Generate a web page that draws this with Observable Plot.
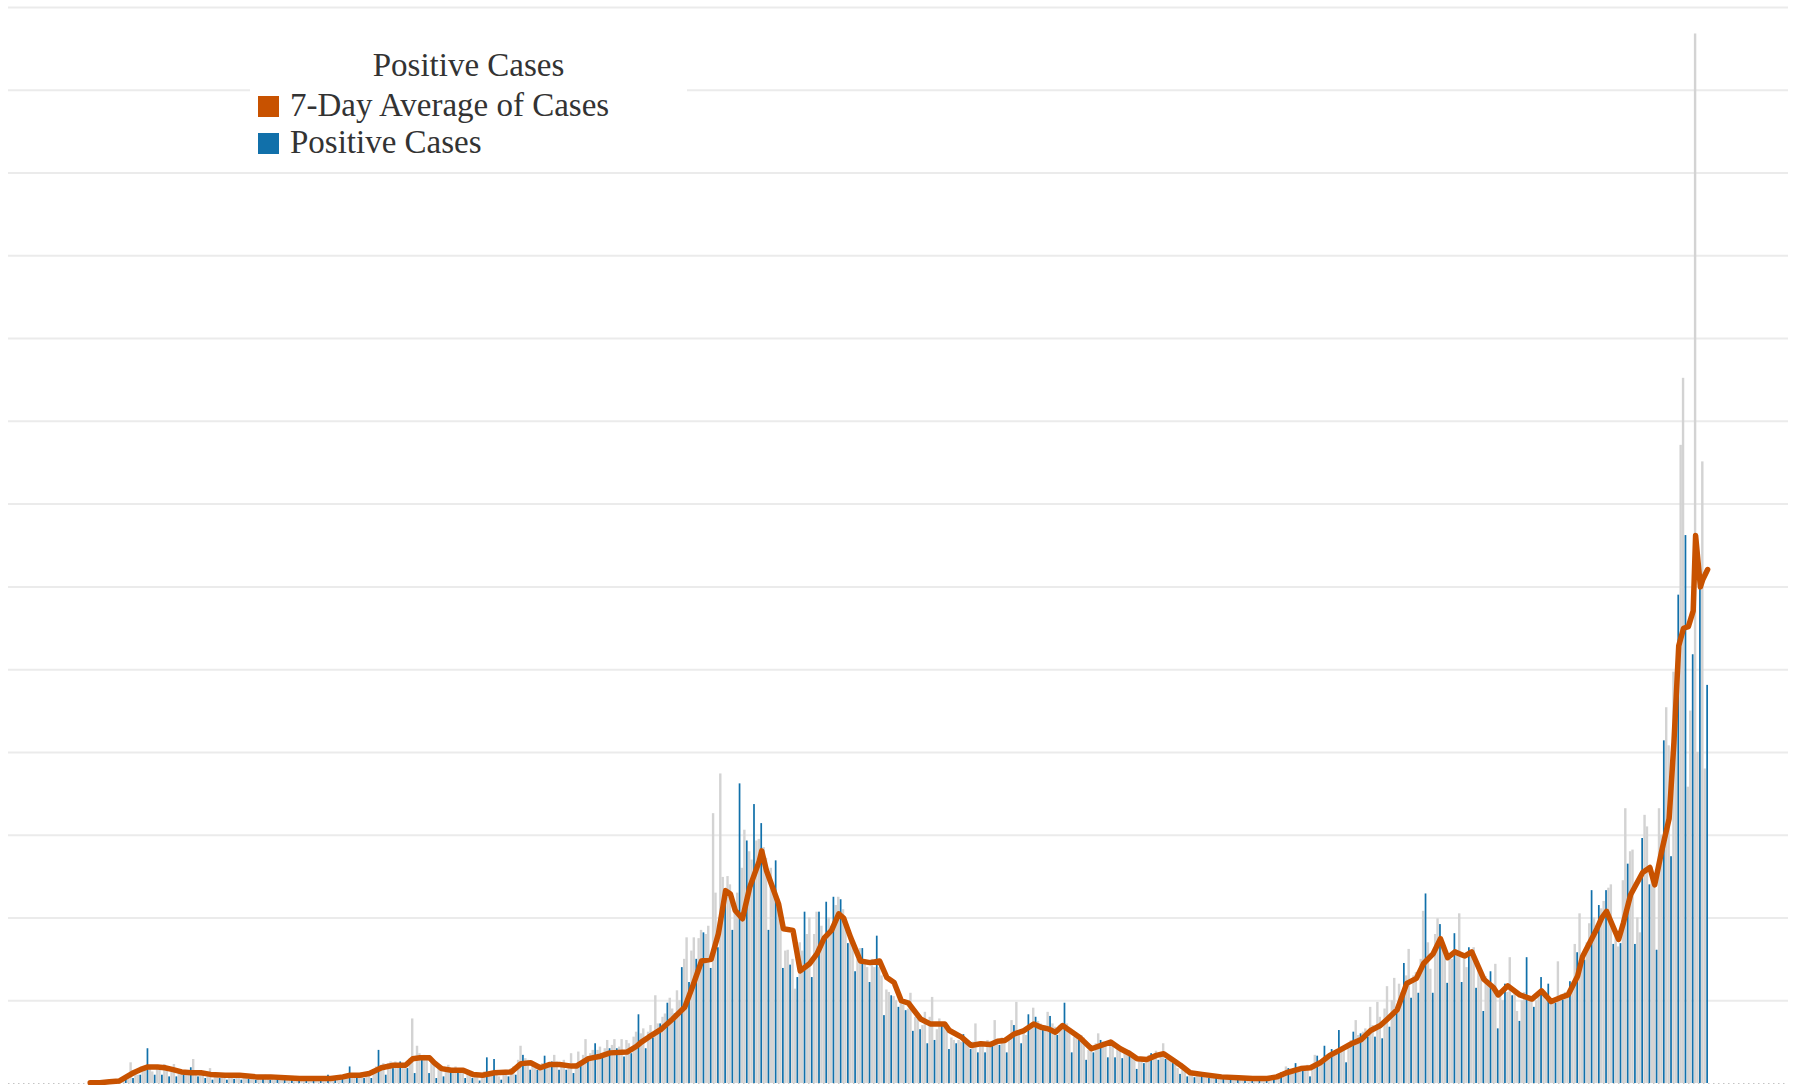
<!DOCTYPE html>
<html>
<head>
<meta charset="utf-8">
<script src="https://cdn.jsdelivr.net/npm/d3@7"></script>
<script src="https://cdn.jsdelivr.net/npm/@observablehq/plot@0.6"></script>
<style>
  html, body { margin: 0; padding: 0; background: #fff; }
  #wrap { position: relative; width: 1796px; height: 1085px; overflow: hidden; }
  #legend { position: absolute; left: 250px; top: 34px; width: 437px; height: 130px; background: #fff;
            font-family: "Liberation Serif", "Times New Roman", serif; color: #333; font-size: 33px; line-height: 33px; }
  #legend .title { position: absolute; left: 0; top: 15px; width: 437px; text-align: center; white-space: nowrap; }
  #legend .sw { position: absolute; left: 8px; width: 21px; height: 21px; }
  #legend .lab { position: absolute; left: 40px; white-space: nowrap; }
</style>
</head>
<body>
<div id="wrap"></div>
<script>
// Daily positive cases (one value per day)
const dailyCases = [
  0,0,0, 0,0,0, 1,0,1, 1,2,1, 3,4,3, 6,10,25, 6,14,10, 10,16,20, 42,18,14, 10,20,16,
  10,23,18, 8,16,23, 8,14,12, 10,12,15, 19,29,12, 8,14,10, 6,10,18, 4,12,10, 6,12,9, 4,10,11,
  5,12,9, 4,10,11, 5,8,10, 4,9,8, 6,10,8, 4,8,9, 5,8,7, 4,7,8, 5,7,6, 4,6,7,
  4,7,6, 5,6,7, 4,7,6, 10,6,5, 4,8,6, 6,8,10, 20,12,9, 8,12,10, 6,12,14, 6,16,20,
  40,22,24, 10,24,26, 18,26,24, 26,22,18, 18,30,78, 12,45,36, 28,34,30, 12,26,24, 6,20,18, 8,16,22,
  18,18,20, 16,18,14, 6,14,12, 6,12,10, 3,12,14, 31,14,10, 29,12,8, 4,14,16, 8,18,20, 10,28,45,
  34,30,28, 16,22,18, 16,20,24, 33,24,22, 26,34,26, 16,24,28, 16,22,36, 12,24,38, 24,34,53, 32,36,40,
  48,40,44, 32,42,52, 42,46,53, 42,44,53, 32,52,48, 36,56,62, 83,60,66, 42,62,70, 55,106,72, 72,80,84,
  97,103,90, 84,112,100, 140,150,176, 122,160,176, 150,175,185, 182,180,190, 139,326,230, 164,374,249, 221,250,240, 185,215,230,
  362,260,306, 293,280,270, 337,293,295, 314,285,272, 185,260,230, 269,220,200, 139,160,161, 143,150,114, 128,170,160, 207,180,200,
  128,180,207, 207,190,175, 219,200,190, 225,215,225, 222,210,200, 169,180,170, 135,150,163, 163,145,140, 122,150,140, 178,140,130,
  82,113,110, 106,105,100, 92,100,95, 88,90,109, 63,80,78, 65,70,86, 48,80,104, 52,65,78, 69,70,65, 41,55,52,
  48,52,50, 59,48,46, 41,50,72, 37,45,48, 37,52,50, 46,76,50, 46,55,52, 37,55,76, 70,98,62, 48,60,58,
  83,70,91, 80,75,72, 64,70,86, 81,72,68, 58,70,65, 97,72,66, 37,56,60, 52,58,55, 28,40,44, 37,48,60,
  52,50,48, 31,48,45, 31,44,40, 30,38,36, 39,34,32, 17,30,28, 24,30,34, 36,30,39, 28,36,48, 29,30,28,
  24,22,18, 11,16,14, 8,12,10, 7,10,9, 8,9,10, 6,9,8, 7,8,9, 6,8,7, 5,8,7, 6,7,6,
  5,7,6, 5,6,7, 6,6,5, 5,7,6, 6,8,7, 13,12,20, 18,14,16, 24,16,18, 19,20,22, 8,22,34,
  33,26,28, 45,30,32, 41,36,40, 64,40,42, 25,48,52, 62,76,58, 60,62,66, 56,92,70, 56,98,80, 54,90,117,
  68,100,127, 92,120,110, 145,130,162, 103,130,134, 109,150,208, 229,170,138, 109,180,199, 192,170,160, 121,150,150, 181,160,205,
  122,150,140, 164,155,164, 115,140,130, 87,129,120, 135,120,144, 66,110,100, 120,110,152, 106,110,87, 75,100,110, 152,105,100,
  92,100,110, 128,110,100, 120,100,98, 97,147,100, 101,110,105, 123,120,168, 158,205,150, 149,170,193, 233,200,190, 215,211,220,
  233,236,240, 168,180,165, 169,245,332, 265,280,282, 168,200,182, 296,324,310, 240,260,250, 161,332,300, 414,454,408, 274,497,420,
  590,771,852, 662,358,450, 518,1268,400, 598,751,380, 481
];

// 7-day average of cases, read at the line's turning points (day index, value)
const avgDay = [
  0,4,8,12,15,18,21,24,28,31, 34,38,42,46,50,56,62,69,75,81,
  87,94,100,105,108,112,116,121,126,131, 134,137,141,143,146,150,155,159,163,168,
  175,179,183,187,191,195,200,202,207,212, 216,223,227,229,232,237,242,247,250,254,
  258,261,264,266,268,271,274,278,279,281, 286,288,292,295,299,302,305,308,311,313,
  316,320,324,328,331,334,337,340,345,349, 355,357,362,366,370,374,377,380,384,388,
  392,395,398,401,404,407,411,416,420,424, 428,432,435,439,443,446,450,453,457,462,
  470,477,483,489,493,497,503,507,511,515, 519,524,528,532,536,539,543,547,551,554,
  558,561,564,567,571,574,579,583,585,589, 594,599,603,607,611,614,618,620,626,628,
  630,635,637,640,645,648,650,653,656,658, 660,662,664,666,667,669,670,672
];
const avgValue = [
  1,1,2,3,8,13,17,20,20,19, 17,14,13,13,11,10,10,8,8,7,
  6,6,6,8,10,10,12,19,22,22, 30,31,31,25,18,16,16,11,10,13,
  14,24,25,19,23,23,21,21,30,33, 37,38,45,50,56,65,78,92,115,148,
  150,181,233,229,209,199,237,269,281,257, 217,187,185,136,145,157,176,185,205,200,
  176,148,146,148,128,122,100,97,78,72, 72,64,56,46,48,47,51,52,60,64,
  72,68,66,62,70,64,56,42,46,50, 42,36,30,29,34,36,28,22,13,11,
  8,7,6,6,8,13,18,19,25,34, 40,48,53,64,70,78,89,121,127,145,
  157,175,152,159,154,159,126,116,107,118, 107,102,112,99,104,107,130,153,187,200,
  208,174,194,228,255,261,240,282,320,412, 529,550,552,571,662,600,609,621
];

const gridValues = [100,200,300,400,500,600,700,800,900,1000,1100,1200,1300];
const legendTitle = "Positive Cases";
const seriesLabels = ["7-Day Average of Cases", "Positive Cases"];
const seriesColors = ["#c85200", "#1170aa"];
const mutedBarColor = "#d3d3d3";

const days = dailyCases.map((v, i) => ({day: i, cases: v, blue: i % 3 === 0}));
const avg = avgDay.map((d, i) => ({day: d, value: avgValue[i]}));

const chart = Plot.plot({
  width: 1796,
  height: 1085,
  marginTop: 7,
  marginBottom: 2,
  marginLeft: 8,
  marginRight: 8,
  x: {type: "linear", domain: [-33.94, 705.6], axis: null},
  y: {type: "linear", domain: [0, 1300], axis: null},
  marks: [
    Plot.ruleY(gridValues, {stroke: "#ebebeb", strokeWidth: 2}),
    Plot.ruleY([0], {stroke: "#c4c4c4", strokeWidth: 1, strokeDasharray: "1.5,3.5"}),
    Plot.rectY(days.filter(d => !d.blue), {
      x1: d => d.day - 0.5, x2: d => d.day + 0.5, y: "cases",
      fill: mutedBarColor, insetLeft: 0, insetRight: 0
    }),
    Plot.rectY(days.filter(d => d.blue), {
      x1: d => d.day - 0.5, x2: d => d.day + 0.5, y: "cases",
      fill: seriesColors[1], insetLeft: 0.35, insetRight: 0.35
    }),
    Plot.line(avg, {
      x: "day", y: "value", stroke: seriesColors[0], strokeWidth: 5.5,
      strokeLinejoin: "round", strokeLinecap: "round"
    })
  ]
});

const wrap = document.getElementById("wrap");
wrap.appendChild(chart);

const legend = document.createElement("div");
legend.id = "legend";
const t = document.createElement("div");
t.className = "title";
t.textContent = legendTitle;
legend.appendChild(t);
seriesLabels.forEach((lab, i) => {
  const sw = document.createElement("div");
  sw.className = "sw";
  sw.style.top = (62 + i * 37) + "px";
  sw.style.background = seriesColors[i];
  legend.appendChild(sw);
  const tx = document.createElement("div");
  tx.className = "lab";
  tx.style.top = (55 + i * 37) + "px";
  tx.textContent = lab;
  legend.appendChild(tx);
});
wrap.appendChild(legend);
</script>
</body>
</html>
